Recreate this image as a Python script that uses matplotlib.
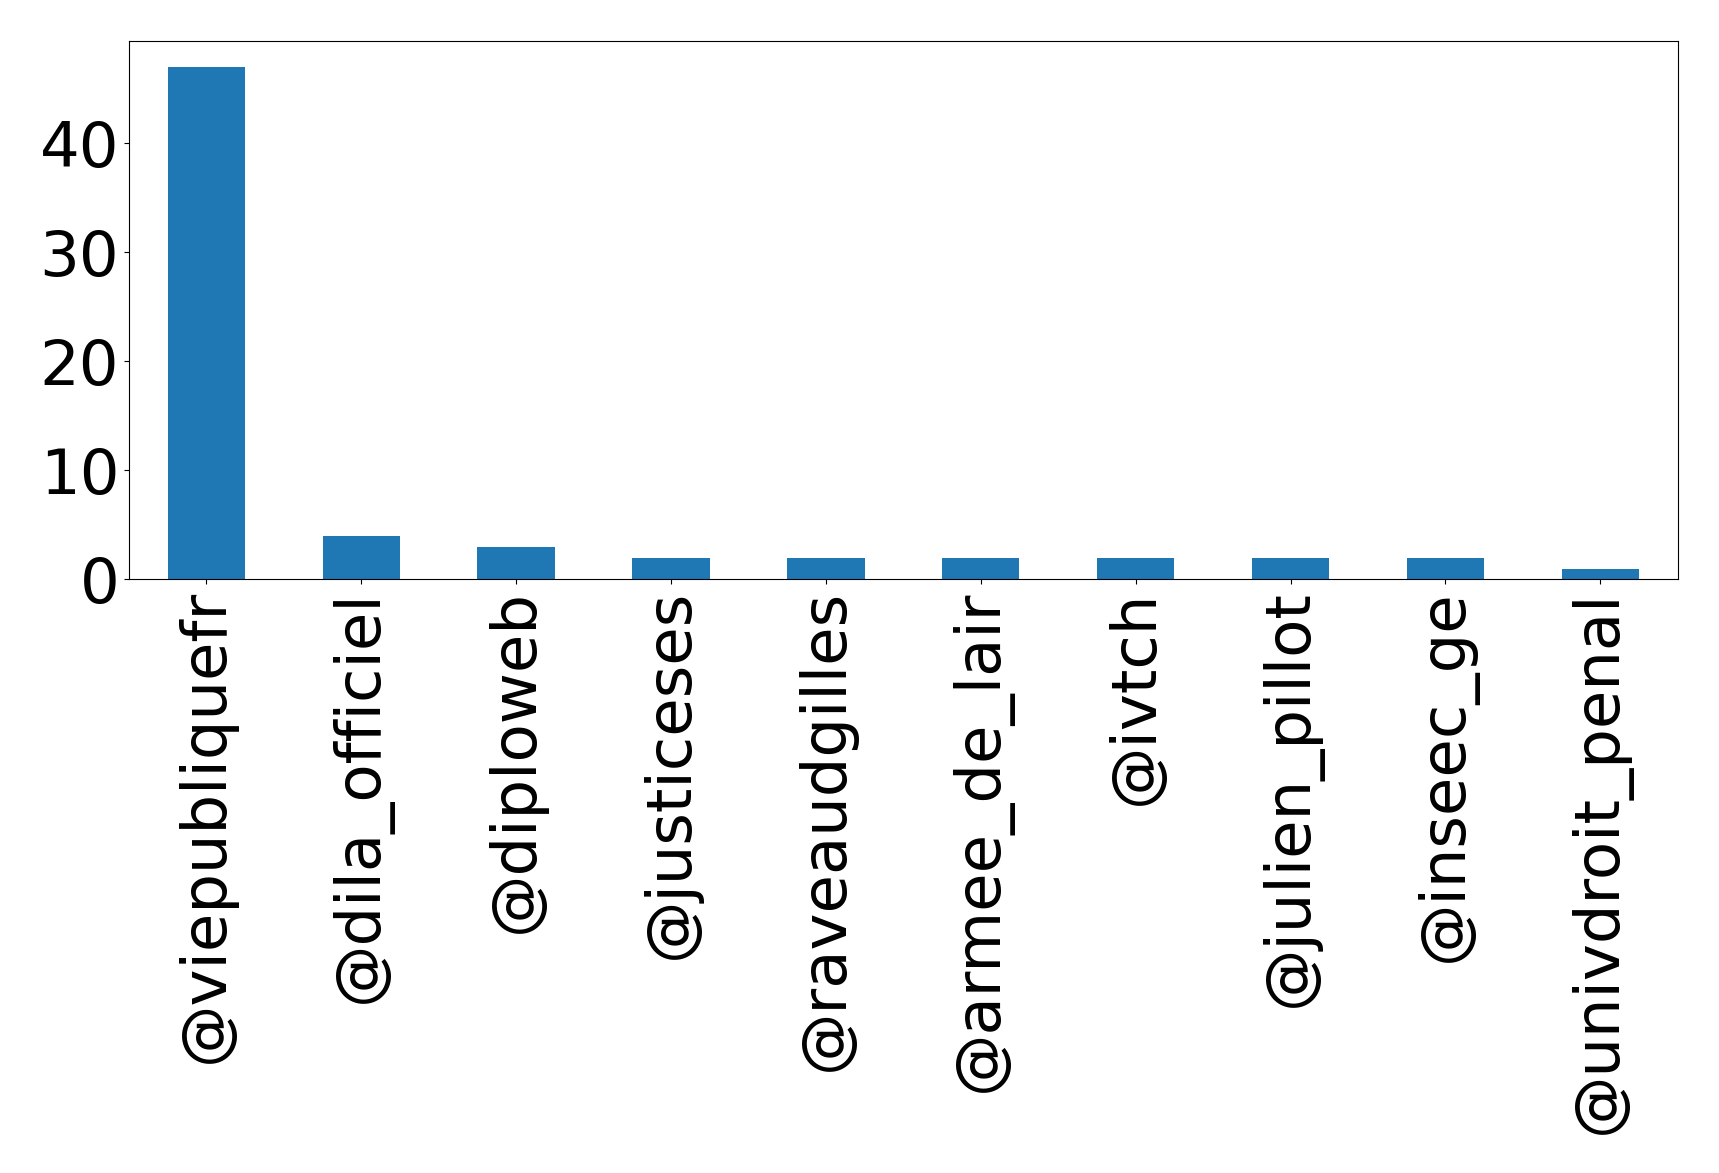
import matplotlib
matplotlib.use("Agg")
import matplotlib.pyplot as plt
import numpy as np

# comptes mentionnés et nombre de mentions
accounts = ["@viepubliquefr", "@dila_officiel", "@diploweb", "@justiceses",
            "@raveaudgilles", "@armee_de_lair", "@ivtch", "@julien_pillot",
            "@inseec_ge", "@univdroit_penal"]
counts = [47, 4, 3, 2, 2, 2, 2, 2, 2, 1]

fig = plt.figure(figsize=(17.19, 11.73), dpi=100)
ax = fig.add_axes([0.075, 0.506, 0.901, 0.459])

x = np.arange(len(accounts))
ax.bar(x, counts, width=0.5, color="#1f77b4")
ax.set_xlim(-0.5, len(accounts) - 0.5)
ax.set_ylim(0, max(counts) * 1.05)
ax.set_xticks(x)
ax.set_xticklabels(accounts, rotation=90, fontsize=45)
ax.set_yticks([0, 10, 20, 30, 40])
ax.tick_params(axis="y", labelsize=45)

fig.savefig("out.png", dpi=100)
